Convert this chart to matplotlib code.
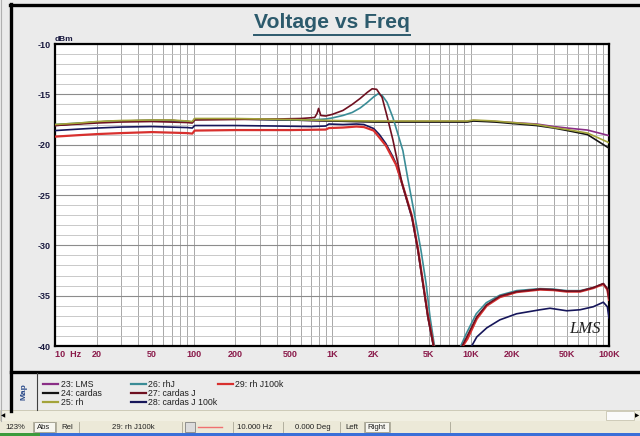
import numpy as np
import matplotlib.pyplot as plt
from matplotlib.lines import Line2D
from matplotlib.patches import Rectangle
from matplotlib.transforms import Affine2D
from matplotlib.ticker import NullFormatter

plt.rcParams['font.family'] = ['Liberation Sans', 'DejaVu Sans']
plt.rcParams['axes.unicode_minus'] = False

W, H = 640, 436

names = ['23: LMS', '24: cardas', '25: rh', '26: rhJ', '27: cardas J',
         '28: cardas J 100k', '29: rh J100k']
colors = ['#8a2e86', '#141414', '#a3a33a', '#3a8c96', '#6e1020',
          '#16165a', '#d8302e']

# flat group (no filter)
f_flat = [10, 15, 20, 30, 50, 70, 90, 98, 102, 200, 500, 1000, 2000, 5000,
          9500, 10500, 15000, 20000, 30000, 40000, 50000, 70000, 100000]
lms = [-18.1, -17.9, -17.75, -17.65, -17.6, -17.6, -17.7, -17.75, -17.45,
       -17.45, -17.55, -17.65, -17.7, -17.7, -17.7, -17.6, -17.7, -17.8,
       -17.95, -18.2, -18.35, -18.55, -19.1]
cardas = [-18.05, -17.9, -17.75, -17.65, -17.6, -17.6, -17.7, -17.75, -17.45,
          -17.45, -17.55, -17.65, -17.75, -17.75, -17.75, -17.65, -17.75,
          -17.9, -18.1, -18.35, -18.6, -19.0, -20.35]
rh = [-18.0, -17.85, -17.7, -17.6, -17.55, -17.55, -17.65, -17.7, -17.4,
      -17.4, -17.5, -17.6, -17.65, -17.65, -17.65, -17.55, -17.65, -17.8,
      -18.0, -18.3, -18.5, -18.85, -19.8]

# rhJ (teal)
f_rhj = [10, 15, 20, 30, 50, 90, 98, 102, 200, 400, 700, 900, 1000, 1200,
         1400, 1600, 1800, 2000, 2150, 2300, 2500, 2750, 3000, 3250, 3540,
         3975, 4390, 4780, 5100, 5450, 5800, 8200, 8500, 9300, 11000, 13000,
         16300, 21500, 31800, 39600, 49500, 61800, 77000, 91000, 97300, 100000]
rhj = [-18.0, -17.85, -17.75, -17.65, -17.6, -17.7, -17.75, -17.45, -17.45,
       -17.5, -17.55, -17.45, -17.35, -17.1, -16.8, -16.35, -15.8, -15.25,
       -14.95, -15.1, -15.8, -17.3, -19.0, -20.6, -23.5, -27.2, -30.5, -33.8,
       -37.1, -39.7, -42, -42, -40, -38.8, -36.8, -35.7, -34.95, -34.5,
       -34.3, -34.35, -34.5, -34.5, -34.2, -33.8, -34.3, -35.2]

# cardas J (maroon)
f_cj = [10, 15, 20, 30, 50, 90, 98, 102, 200, 400, 600, 750, 780, 800, 830,
        900, 1000, 1200, 1400, 1600, 1800, 1950, 2100, 2300, 2500, 2750, 2900,
        3200, 3780, 4180, 4540, 4930, 5360, 5700, 8500, 8700, 9400, 11100,
        13100, 16300, 21500, 31800, 39600, 49500, 61800, 77000, 91000, 97300,
        100000]
cj = [-18.1, -17.95, -17.85, -17.75, -17.7, -17.8, -17.85, -17.55, -17.5,
      -17.45, -17.4, -17.3, -16.9, -16.4, -17.1, -17.15, -17.0, -16.6, -16.0,
      -15.4, -14.8, -14.45, -14.5, -15.3, -17.2, -19.5, -21.0, -23.8, -27.2,
      -30.5, -33.8, -37.1, -39.7, -42, -42, -40, -39.1, -37.1, -35.9, -35.05,
      -34.6, -34.35, -34.4, -34.55, -34.55, -34.2, -33.8, -34.3, -35.3]

# cardas J 100k (navy)
f_cj100 = [10, 15, 20, 30, 50, 90, 98, 102, 200, 400, 700, 900, 950, 1200,
           1500, 1700, 2000, 2200, 2450, 2750, 2900, 3200, 3780, 4180, 4540,
           4930, 5360, 5700, 9800, 10200, 11100, 13100, 16300, 21500, 31800,
           37500, 49500, 61800, 77000, 91000, 97300, 100000]
cj100 = [-18.6, -18.45, -18.35, -18.25, -18.2, -18.3, -18.35, -18.1, -18.1,
         -18.15, -18.2, -18.15, -17.95, -18.0, -17.95, -18.0, -18.4, -19.0,
         -19.9, -21.2, -21.9, -23.9, -27.3, -30.6, -33.9, -37.2, -39.8, -42,
         -42, -40, -39.1, -38.2, -37.4, -36.8, -36.4, -36.25, -36.5, -36.4,
         -36.1, -35.65, -36.1, -37.2]

# rh J100k (red)
f_rj100 = [10, 15, 20, 30, 50, 90, 98, 102, 200, 500, 900, 950, 1200, 1500,
           1700, 2000, 2200, 2450, 2750, 2900, 3200, 3780, 4180, 4540, 4930,
           5360, 5700, 8400, 8800, 9500, 11100, 13100, 16300, 21500, 31800,
           39600, 49500, 61800, 77000, 91000, 97300, 100000]
rj100 = [-19.2, -19.05, -18.95, -18.85, -18.75, -18.85, -18.9, -18.6, -18.55,
         -18.55, -18.5, -18.35, -18.3, -18.2, -18.25, -18.6, -19.3, -20.1,
         -21.4, -22.0, -23.8, -27.1, -30.4, -33.7, -37.0, -39.6, -42, -42,
         -40, -39.3, -37.3, -36.0, -35.15, -34.65, -34.4, -34.45, -34.6,
         -34.6, -34.25, -33.85, -34.4, -35.4]

series = [(f_flat, lms, 0), (f_flat, cardas, 1), (f_rhj, rhj, 3),
          (f_cj100, cj100, 5), (f_rj100, rj100, 6), (f_cj, cj, 4),
          (f_flat, rh, 2)]

xticks = [10, 20, 50, 100, 200, 500, 1000, 2000, 5000, 10000, 20000, 50000, 100000]
xlabels = ['10  Hz', '20', '50', '100', '200', '500', '1K', '2K', '5K', '10K',
           '20K', '50K', '100K']

fig = plt.figure(figsize=(6.4, 4.36), dpi=100, facecolor='#ebebeb')
px = Affine2D().scale(1 / W, -1 / H).translate(0, 1) + fig.transFigure

ax = fig.add_axes([55 / W, 1 - 346 / H, 554 / W, 302 / H])
ax.set_facecolor('white')
for f, v, i in series:
    ax.plot(f, v, color=colors[i], lw=1.6 if i == 6 else 1.2, zorder=3)

ax.set_xscale('log')
ax.set_xlim(10, 100000)
ax.set_ylim(-40, -10)
ax.set_xticks(xticks, xlabels)
minor = [m * 10 ** d for d in range(1, 5) for m in range(2, 10)]
ax.set_xticks(minor, minor=True)
ax.xaxis.set_minor_formatter(NullFormatter())
ax.set_yticks(np.arange(-40, -9, 5))
ax.set_yticks(np.arange(-40, -9, 1), minor=True)
ax.grid(which='both', axis='x', color='#a8a8a8', lw=0.7)
ax.grid(which='major', axis='y', color='#8c8c8c', lw=0.8)
ax.grid(which='minor', axis='y', color='#c0c0c0', lw=0.6)
ax.tick_params(which='both', length=0)
ax.tick_params(axis='x', pad=3, labelsize=6.5, labelcolor='#8a1a4a')
ax.tick_params(axis='y', pad=3, labelsize=6.5, labelcolor='#1a1a40')
for lab in ax.get_xticklabels() + ax.get_yticklabels():
    lab.set_fontweight('bold')
ax.get_xticklabels()[0].set_ha('left')
for s in ax.spines.values():
    s.set_linewidth(1.6)
ax.text(0.0, 1.004, 'dBm', transform=ax.transAxes, fontsize=6,
        fontweight='bold', color='#1a1a40', ha='left', va='bottom')
ax.text(0.957, 0.055, 'LMS', transform=ax.transAxes, fontsize=12,
        fontstyle='italic', family='Liberation Serif', ha='center',
        va='center', color='#202020')

# title with underline
title = fig.text(332 / W, 1 - 22 / H, 'Voltage vs Freq', ha='center',
                 va='center', fontsize=15.2, fontweight='bold', color='#2c5a6c')
fig.canvas.draw()
bb = title.get_window_extent()
fig.add_artist(Line2D([bb.x0 / W, bb.x1 / W], [1 - 35 / H, 1 - 35 / H],
                      transform=fig.transFigure, color='#2c5a6c', lw=1.4))

# frame lines
fig.add_artist(Line2D([1, 1], [0, 421], transform=px, color='#b0b0b0', lw=0.8))
fig.add_artist(Line2D([10, 640], [5, 5], transform=px, color='black', lw=2.4))
fig.add_artist(Line2D([11, 11], [4, 411], transform=px, color='black', lw=2.4))
fig.add_artist(Line2D([11, 640], [372, 372], transform=px, color='black', lw=2.4))
fig.add_artist(Line2D([37, 37], [373, 410], transform=px, color='#404040', lw=0.8))
fig.text(24 / W, 1 - 392 / H, 'Map', rotation=90, ha='center', va='center',
         fontsize=6, fontweight='bold', color='#2a4a8a')

# legend
cols = [(43, 61), (131, 148), (218, 235)]
for i, name in enumerate(names):
    c, r = divmod(i, 3)
    x0, xt = cols[c]
    y = 384 + 9 * r
    fig.add_artist(Line2D([x0, x0 + 15], [y, y], transform=px,
                          color=colors[i], lw=1.6))
    fig.text(xt / W, 1 - y / H, name, ha='left', va='center', fontsize=6.3,
             color='#202020')

# scroll bar
fig.add_artist(Rectangle((0, 410), 640, 11, transform=px, facecolor='#f1efe2',
                         edgecolor='#c8c5b0', lw=0.6))
fig.add_artist(Rectangle((606, 411), 28, 9, transform=px, facecolor='#fafafa',
                         edgecolor='#c8c5b0', lw=0.6))
fig.text(3 / W, 1 - 415.5 / H, '\u25c0', fontsize=4, ha='center', va='center')
fig.text(637 / W, 1 - 415.5 / H, '\u25b6', fontsize=4, ha='center', va='center')

# status bar
fig.add_artist(Rectangle((0, 421), 640, 12, transform=px, facecolor='#ece9d8',
                         edgecolor='none'))
for xs in [33, 56, 79, 182, 233, 283, 340, 364, 390, 450]:
    fig.add_artist(Line2D([xs, xs], [422, 432], transform=px,
                          color='#a8a594', lw=0.6))
fig.add_artist(Rectangle((34, 422), 21, 10, transform=px, facecolor='#f7f6f0',
                         edgecolor='#8a8878', lw=0.5))
fig.add_artist(Rectangle((365, 422), 24, 10, transform=px, facecolor='#f7f6f0',
                         edgecolor='#8a8878', lw=0.5))
status = [(15, '123%'), (44, 'Abs'), (67, 'Rel'), (133, '29: rh J100k'),
          (255, '10.000 Hz'), (313, '0.000 Deg'), (352, 'Left'),
          (377, 'Right')]
for xs, s in status:
    fig.text(xs / W, 1 - 427.5 / H, s, ha='center', va='center', fontsize=5.6,
             color='#202020')
fig.add_artist(Rectangle((185, 422), 10, 10, transform=px, facecolor='#dcdcdc',
                         edgecolor='#707070', lw=0.5))
fig.add_artist(Line2D([198, 222], [427, 427], transform=px, color='#f07070',
                      lw=1.0))
fig.add_artist(Rectangle((0, 433), 640, 3, transform=px, facecolor='#3a6fd8',
                         edgecolor='none'))
fig.add_artist(Rectangle((0, 433), 40, 3, transform=px, facecolor='#3c9a3c',
                         edgecolor='none'))

fig.savefig('out.png', dpi=100, facecolor=fig.get_facecolor())
